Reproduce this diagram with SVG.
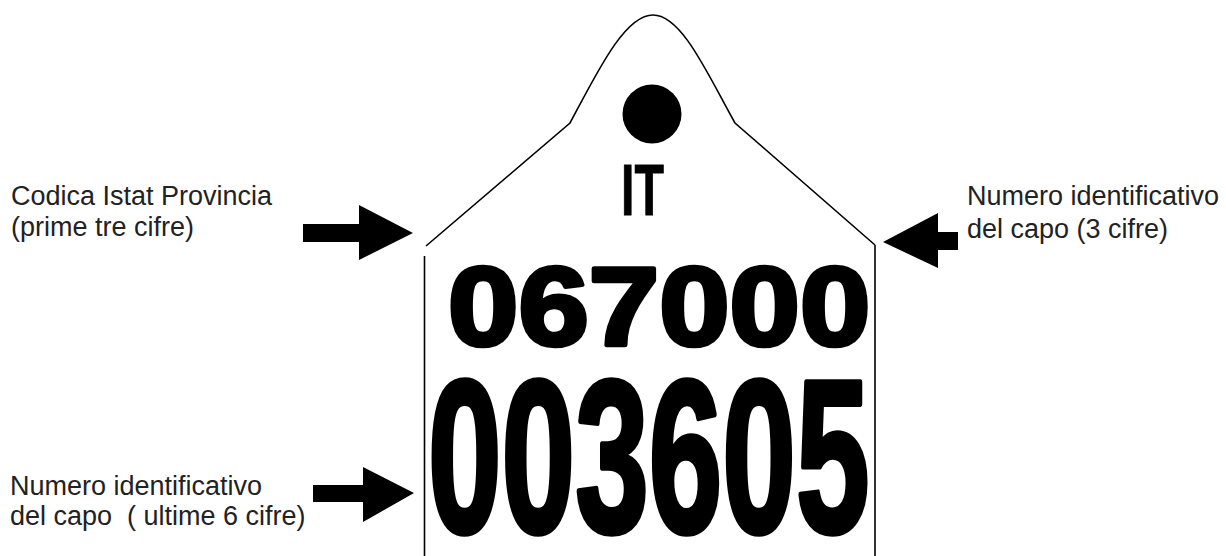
<svg xmlns="http://www.w3.org/2000/svg" width="1226" height="556" viewBox="0 0 1226 556">
<style>
.lbl{font-family:"Liberation Sans",Arial,sans-serif;font-size:27px;fill:#222;white-space:pre}
.big{font-family:"Liberation Sans",Arial,sans-serif;font-weight:bold;fill:#000;stroke:#000;stroke-linejoin:round}
.ol{fill:none;stroke:#000;stroke-width:1.6}
.arr{fill:#000}
</style>
<rect width="1226" height="556" fill="#fff"/>
<g id="tag">
<path class="ol" d="M426,246 L570,123 C596,75 624,15 653,15 C682,15 708,75 735,123 L875,245"/>
<line class="ol" x1="424.5" y1="256" x2="424.5" y2="556"/>
<line class="ol" x1="875" y1="245" x2="875" y2="556"/>
<circle cx="652" cy="114" r="29.5" fill="#000"/>
<text class="big" font-size="73" stroke-width="1" transform="translate(621,214.5) scale(0.66,1)">IT</text>
<text class="big" font-size="112" stroke-width="4.5" transform="translate(448,344.5) scale(1.13,1)">067000</text>
<text class="big" font-size="218" stroke-width="5.5" transform="translate(428,531.5) scale(0.607,1)">003605</text>
</g>
<g id="label-provincia">
<text class="lbl" x="11" y="205">Codica Istat Provincia</text>
<text class="lbl" x="11" y="236">(prime tre cifre)</text>
</g>
<g id="label-capo3">
<text class="lbl" x="967" y="205">Numero identificativo</text>
<text class="lbl" x="967" y="238">del capo (3 cifre)</text>
</g>
<g id="label-capo6">
<text class="lbl" x="10" y="495">Numero identificativo</text>
<text class="lbl" x="10" y="525" xml:space="preserve">del capo  ( ultime 6 cifre)</text>
</g>
<g id="connectors">
<polygon class="arr" points="303,224 359,224 359,205 413,233 359,260 359,242 303,242"/>
<polygon class="arr" points="883,242 938,213 938,232 958,232 958,250 938,250 938,268"/>
<polygon class="arr" points="313,485 363,485 363,467 414,493 363,522 363,502 313,502"/>
</g>
</svg>
